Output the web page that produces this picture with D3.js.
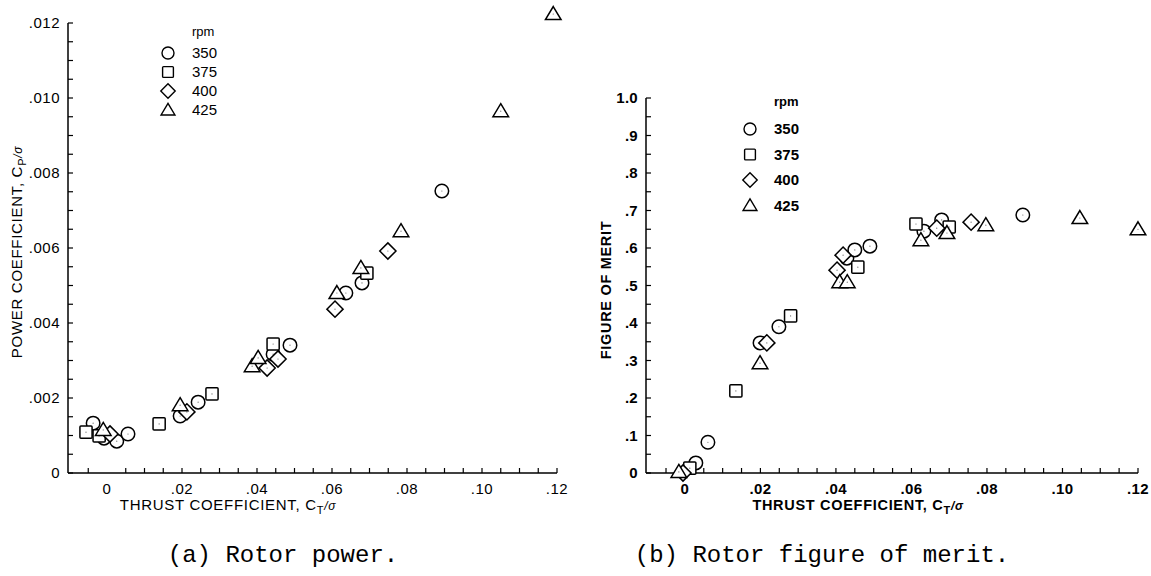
<!DOCTYPE html>
<html>
<head>
<meta charset="utf-8">
<script src="https://cdn.jsdelivr.net/npm/d3@7"></script>
<style>
  body { margin: 0; background: #fff; }
  text { font-family: "Liberation Sans", Arial, sans-serif; fill: #000; }
  .cap { font-family: "Liberation Mono", "DejaVu Sans Mono", monospace; }
</style>
</head>
<body>
<script>
// rpm groups
var rpms = ['350', '375', '400', '425']
var shapes = ['circle', 'square', 'diamond', 'triangle']

// (a) power coefficient CP/sigma vs CT/sigma
var powerCT = [
  [-0.0037, -0.0008, 0.0026, 0.0056, 0.0195, 0.0243, 0.0443, 0.0488, 0.0637, 0.068, 0.0893],
  [-0.0056, -0.0021, 0.0139, 0.028, 0.0443, 0.0693],
  [0.0008, 0.0213, 0.0427, 0.0456, 0.0608, 0.0749],
  [-0.001, 0.0195, 0.0387, 0.0403, 0.0613, 0.0677, 0.0784, 0.105, 0.119]
]
var powerCP = [
  [0.00133, 0.00093, 0.00085, 0.00104, 0.00152, 0.00189, 0.00317, 0.00341, 0.0048, 0.00507, 0.00752],
  [0.00109, 0.00099, 0.00131, 0.00211, 0.00344, 0.00533],
  [0.00104, 0.00163, 0.0028, 0.00304, 0.00437, 0.00592],
  [0.00115, 0.00181, 0.00285, 0.00307, 0.0048, 0.00547, 0.00645, 0.00965, 0.01224]
]

// (b) figure of merit vs CT/sigma
var meritCT = [
  [0.0029, 0.0061, 0.0199, 0.0249, 0.0429, 0.045, 0.049, 0.0633, 0.068, 0.0895],
  [0.0013, 0.0135, 0.028, 0.0458, 0.0612, 0.07],
  [-0.0005, 0.0217, 0.0403, 0.0419, 0.0667, 0.0758],
  [-0.0016, 0.0199, 0.041, 0.043, 0.0625, 0.0694, 0.0797, 0.1046, 0.12]
]
var meritFM = [
  [0.027, 0.082, 0.347, 0.39, 0.573, 0.595, 0.605, 0.645, 0.675, 0.688],
  [0.013, 0.219, 0.419, 0.549, 0.664, 0.656],
  [0.0, 0.347, 0.541, 0.581, 0.653, 0.669],
  [0.003, 0.293, 0.509, 0.509, 0.621, 0.64, 0.661, 0.68, 0.65]
]

var ctTicks = [0, 0.02, 0.04, 0.06, 0.08, 0.10, 0.12]
var ctLabels = ['0', '.02', '.04', '.06', '.08', '.10', '.12']
var cpTicks = [0, 0.002, 0.004, 0.006, 0.008, 0.010, 0.012]
var cpLabels = ['0', '.002', '.004', '.006', '.008', '.010', '.012']
var fmTicks = [0, 0.1, 0.2, 0.3, 0.4, 0.5, 0.6, 0.7, 0.8, 0.9, 1.0]
var fmLabels = ['0', '.1', '.2', '.3', '.4', '.5', '.6', '.7', '.8', '.9', '1.0']

var svg = d3.select('body').append('svg')
  .attr('width', 1151)
  .attr('height', 576)

function marker (g, shape, x, y, s, sw) {
  var p
  if (shape === 'circle') {
    p = g.append('circle').attr('cx', x).attr('cy', y).attr('r', s * 0.5)
  } else if (shape === 'square') {
    p = g.append('rect').attr('x', x - s * 0.45).attr('y', y - s * 0.45)
      .attr('width', s * 0.9).attr('height', s * 0.9).attr('rx', 1)
  } else if (shape === 'diamond') {
    var d = s * 0.6
    p = g.append('path').attr('d', 'M' + x + ',' + (y - d) + 'L' + (x + d) + ',' + y +
      'L' + x + ',' + (y + d) + 'L' + (x - d) + ',' + y + 'Z')
  } else {
    var h = s * 0.55
    p = g.append('path').attr('d', 'M' + x + ',' + (y - h) + 'L' + (x + h * 1.05) + ',' + (y + h * 0.75) +
      'L' + (x - h * 1.05) + ',' + (y + h * 0.75) + 'Z')
  }
  p.attr('fill', 'white').attr('stroke', '#000').attr('stroke-width', sw)
}

function panel (opt) {
  var g = svg.append('g')
  var x = d3.scaleLinear().domain(opt.xDomain).range(opt.xRange)
  var y = d3.scaleLinear().domain(opt.yDomain).range(opt.yRange)

  // axis lines
  g.append('line').attr('x1', opt.xRange[0]).attr('x2', opt.xRange[0])
    .attr('y1', y(opt.yDomain[1])).attr('y2', opt.yRange[0])
    .attr('stroke', '#000').attr('stroke-width', 1.5)
  g.append('line').attr('x1', opt.xRange[0]).attr('x2', opt.xRange[1])
    .attr('y1', opt.yRange[0]).attr('y2', opt.yRange[0])
    .attr('stroke', '#000').attr('stroke-width', 1.5)

  // minor ticks pointing inward
  var xt = d3.range(0.005, opt.xDomain[1] + 1e-9, 0.005).concat([-0.005])
  g.selectAll('.xt').data(xt).enter().append('line')
    .attr('x1', function (d) { return x(d) }).attr('x2', function (d) { return x(d) })
    .attr('y1', opt.yRange[0]).attr('y2', opt.yRange[0] - 5)
    .attr('stroke', '#000').attr('stroke-width', 1.2)
  var yt = d3.range(0, opt.yDomain[1] + 1e-9, opt.yMinor)
  g.selectAll('.yt').data(yt).enter().append('line')
    .attr('x1', opt.xRange[0]).attr('x2', opt.xRange[0] + 5)
    .attr('y1', function (d) { return y(d) }).attr('y2', function (d) { return y(d) })
    .attr('stroke', '#000').attr('stroke-width', 1.2)

  // tick labels
  g.selectAll('.xl').data(ctTicks).enter().append('text')
    .attr('x', function (d) { return x(d) }).attr('y', opt.yRange[0] + 21)
    .attr('text-anchor', 'middle').style('font-size', opt.fs + 'px').style('font-weight', opt.fw)
    .style('letter-spacing', opt.ls + 'px')
    .text(function (d, i) { return ctLabels[i] })
  g.selectAll('.yl').data(opt.yTicks).enter().append('text')
    .attr('x', opt.xRange[0] - 8).attr('y', function (d) { return y(d) + 5 })
    .attr('text-anchor', 'end').style('font-size', opt.fs + 'px').style('font-weight', opt.fw)
    .style('letter-spacing', opt.ls + 'px')
    .text(function (d, i) { return opt.yLabels[i] })

  // axis titles
  var xtl = g.append('text').attr('x', opt.xTitleX).attr('y', opt.yRange[0] + 37)
    .attr('text-anchor', 'middle').style('font-size', opt.tfs + 'px').style('font-weight', opt.fw)
    .style('letter-spacing', '0.7px')
  xtl.append('tspan').text('THRUST COEFFICIENT, C')
  xtl.append('tspan').attr('dy', 4).style('font-size', '11px').text('T')
  xtl.append('tspan').attr('dy', -4).style('font-style', 'italic').style('font-size', '12px').text('/σ')

  var ytl = g.append('text')
    .attr('transform', 'translate(' + opt.yTitleX + ',' + opt.yTitleY + ') rotate(-90)')
    .attr('text-anchor', 'middle').style('font-size', opt.tfs + 'px').style('font-weight', opt.fw)
    .style('letter-spacing', '0.7px')
  ytl.append('tspan').text(opt.yTitle)
  if (opt.yTitleSub) {
    ytl.append('tspan').attr('dy', 4).style('font-size', '11px').text(opt.yTitleSub)
    ytl.append('tspan').attr('dy', -4).style('font-style', 'italic').style('font-size', '12px').text('/σ')
  }

  // data marks
  opt.xs.forEach(function (arr, k) {
    arr.forEach(function (v, i) {
      marker(g, shapes[k], x(v), y(opt.ys[k][i]), 13.5, 1.5)
      g.append('circle').attr('cx', x(v)).attr('cy', y(opt.ys[k][i])).attr('r', 0.6).attr('fill', '#666')
    })
  })

  // legend
  var lg = g.append('g')
  lg.append('text').attr('x', opt.legX + 24).attr('y', opt.legY - opt.legStep + 2)
    .style('font-size', (opt.lfs - 2) + 'px').style('font-weight', opt.fw).text('rpm')
  rpms.forEach(function (r, k) {
    var cy = opt.legY + k * opt.legStep
    marker(lg, shapes[k], opt.legX, cy, 12, 1.4)
    lg.append('text').attr('x', opt.legX + 24).attr('y', cy + 5)
      .style('font-size', opt.lfs + 'px').style('font-weight', opt.fw).text(r)
  })

  svg.append('text').attr('class', 'cap').attr('x', opt.capX).attr('y', 562)
    .attr('text-anchor', 'middle').style('font-size', '24px').text(opt.caption)
}

panel({
  xDomain: [-0.0104, 0.12], xRange: [68, 557],
  yDomain: [0, 0.012], yRange: [473, 23],
  yMinor: 0.0005, yTicks: cpTicks, yLabels: cpLabels,
  xs: powerCT, ys: powerCP,
  fs: 15, ls: 0.5, fw: 'normal', tfs: 15,
  xTitleX: 228, yTitleX: 22, yTitleY: 252,
  yTitle: 'POWER COEFFICIENT, C', yTitleSub: 'P',
  legX: 168, legY: 53, legStep: 19, lfs: 15,
  capX: 283, caption: '(a) Rotor power.'
})

panel({
  xDomain: [-0.0103, 0.12], xRange: [646, 1138],
  yDomain: [0, 1.0], yRange: [473, 98],
  yMinor: 0.05, yTicks: fmTicks, yLabels: fmLabels,
  xs: meritCT, ys: meritFM,
  fs: 15, ls: 0.3, fw: 'bold', tfs: 14.5,
  xTitleX: 858, yTitleX: 611, yTitleY: 290,
  yTitle: 'FIGURE OF MERIT', yTitleSub: null,
  legX: 750, legY: 129, legStep: 25.5, lfs: 15,
  capX: 822, caption: '(b) Rotor figure of merit.'
})
</script>
</body>
</html>
